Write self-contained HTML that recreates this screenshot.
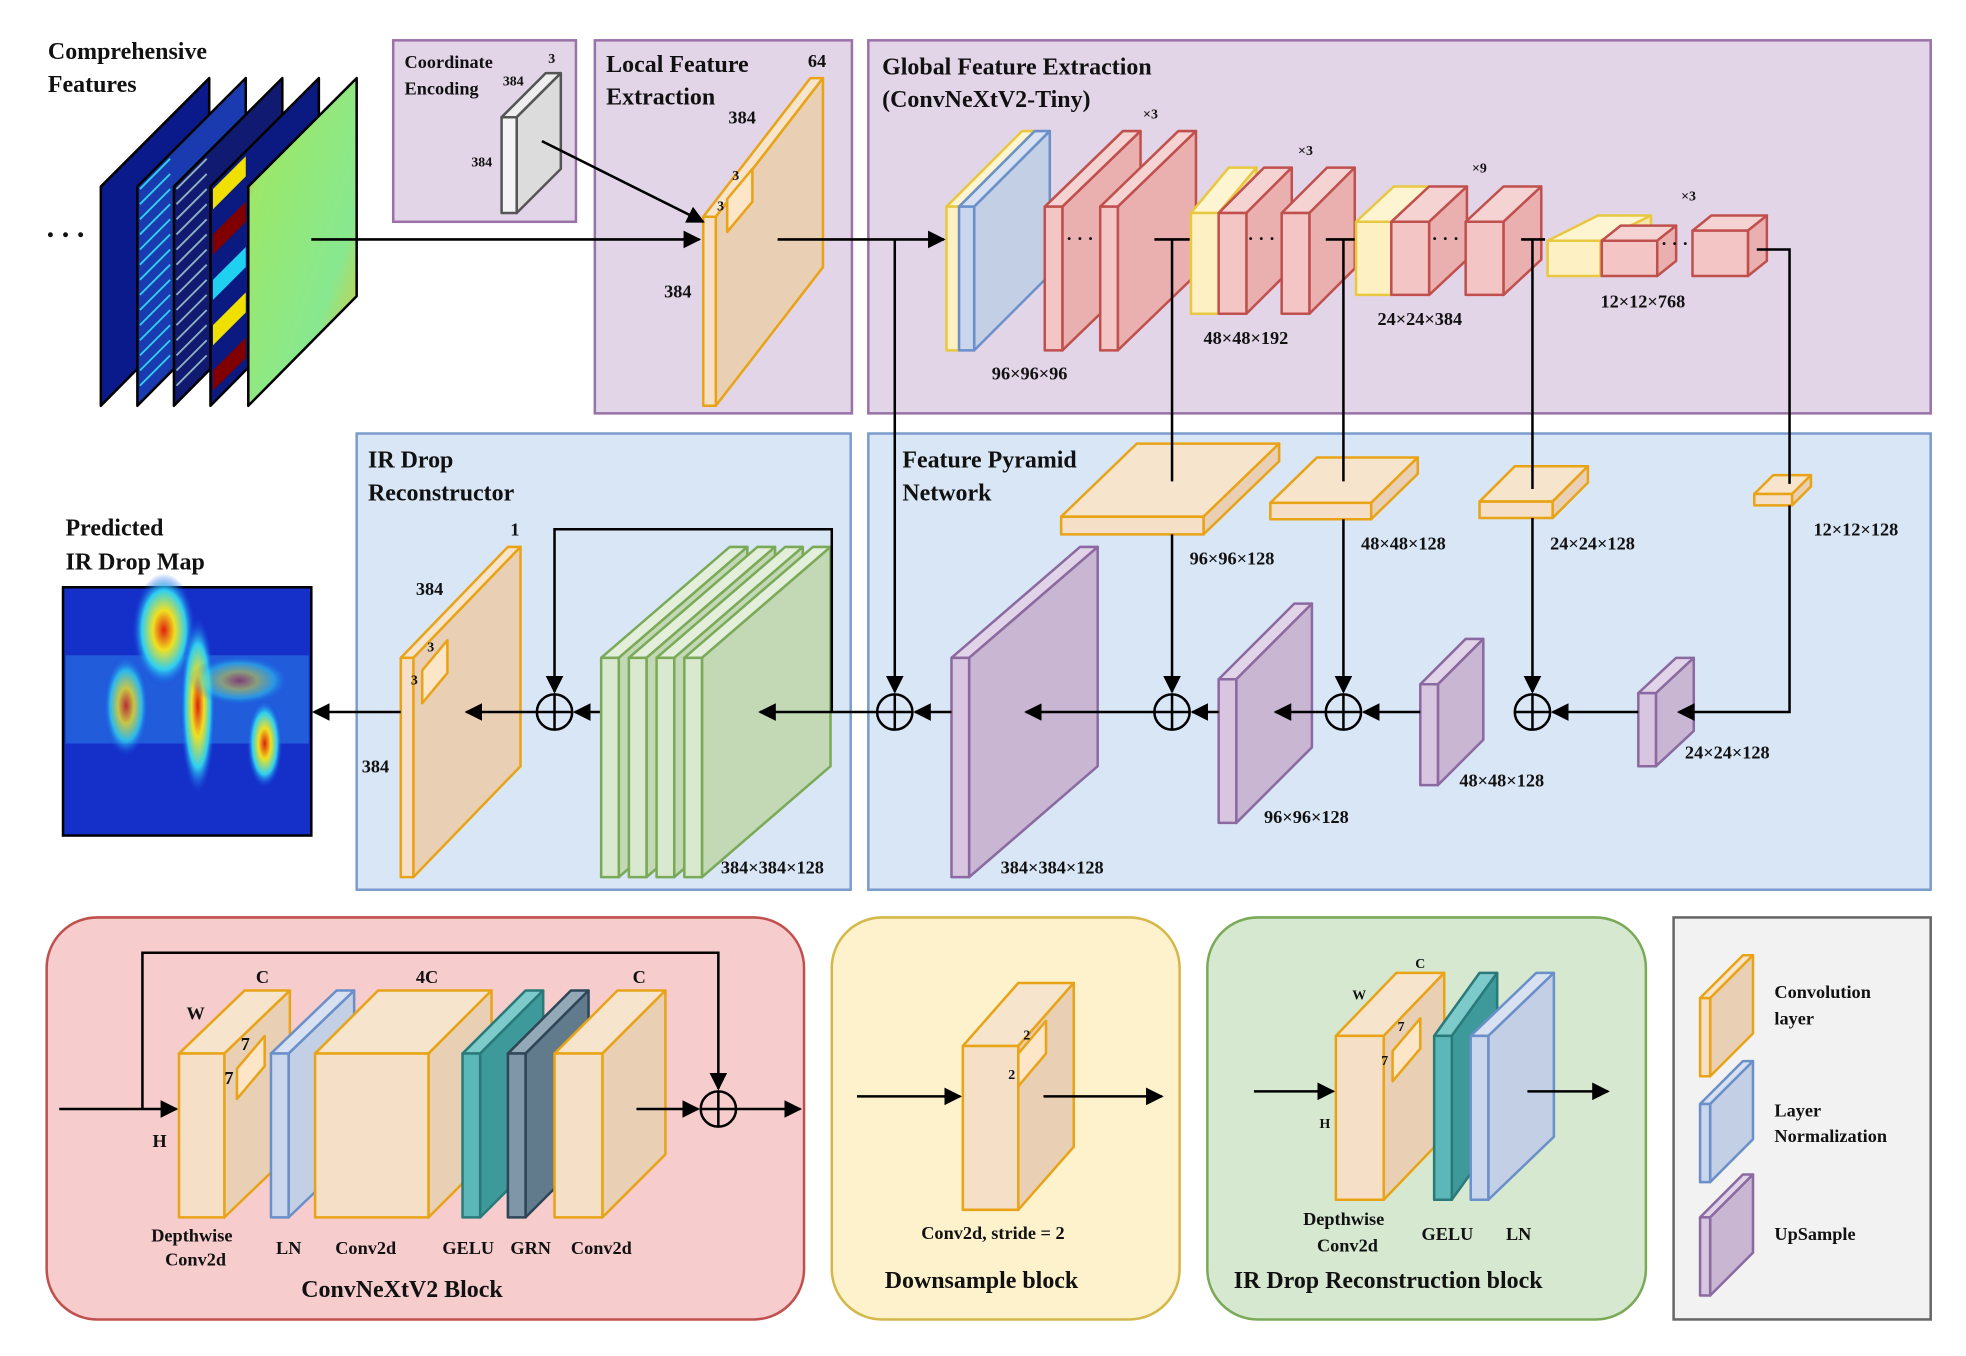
<!DOCTYPE html>
<html><head><meta charset="utf-8">
<style>
html,body{margin:0;padding:0;background:#fff;}
svg{display:block;}
text{font-family:"Liberation Serif",serif;font-weight:bold;fill:#111;}
.t{font-size:19px;}
.l{font-size:14.5px;}
.s{font-size:11px;}
</style></head>
<body>
<svg id="fig" width="1966" height="1356" viewBox="0 0 1560 1076" xmlns="http://www.w3.org/2000/svg">
<defs>
<marker id="ar" viewBox="0 0 10 10" refX="9" refY="5" markerWidth="7" markerHeight="7" orient="auto"><path d="M0,0 L10,5 L0,10 z" fill="#000"/></marker>
<linearGradient id="gfeat" x1="0" y1="0" x2="1" y2="1"><stop offset="0" stop-color="#ff6a00"/><stop offset="0.2" stop-color="#9be86a"/><stop offset="0.7" stop-color="#88e890"/><stop offset="1" stop-color="#f0c020"/></linearGradient>
<radialGradient id="hot" cx="0.5" cy="0.5" r="0.5"><stop offset="0" stop-color="#e02010"/><stop offset="0.35" stop-color="#f0e020"/><stop offset="0.7" stop-color="#30d0f0"/><stop offset="1" stop-color="#1040e0" stop-opacity="0"/></radialGradient>
</defs>

<rect x="312" y="32" width="145" height="144" fill="#e3d5e8" stroke="#9a72a8" stroke-width="2"/>
<rect x="472" y="32" width="204" height="296" fill="#e3d5e8" stroke="#9a72a8" stroke-width="2"/>
<rect x="689" y="32" width="843" height="296" fill="#e3d5e8" stroke="#9a72a8" stroke-width="2"/>
<rect x="283" y="344" width="392" height="362" fill="#d9e6f6" stroke="#7b9ccc" stroke-width="2"/>
<rect x="689" y="344" width="843" height="362" fill="#d9e6f6" stroke="#7b9ccc" stroke-width="2"/>
<rect x="37" y="728" width="601" height="319" rx="40" fill="#f6cccc" stroke="#c0504d" stroke-width="2"/>
<rect x="660" y="728" width="276" height="319" rx="40" fill="#fdf2cc" stroke="#d4b84a" stroke-width="2"/>
<rect x="958" y="728" width="348" height="319" rx="40" fill="#d7e8d1" stroke="#7aaa58" stroke-width="2"/>
<rect x="1328" y="728" width="204" height="319" fill="#f2f2f2" stroke="#666" stroke-width="2"/>

<g id="maps"></g>
<text class="t" x="38" y="47">Comprehensive</text>
<text class="t" x="38" y="73">Features</text>
<text x="37" y="188" style="font-size:24px">. . .</text>

<text class="l" x="321" y="54">Coordinate</text>
<text class="l" x="321" y="75">Encoding</text>
<text class="s" x="435" y="50">3</text>
<text class="s" x="399" y="68">384</text>
<text class="s" x="374" y="132">384</text>
<text class="t" x="481" y="57">Local Feature</text>
<text class="t" x="481" y="83">Extraction</text>
<text class="l" x="641" y="53">64</text>
<text class="l" x="578" y="98">384</text>
<text class="l" x="527" y="236">384</text>
<text class="t" x="700" y="59">Global Feature Extraction</text>
<text class="t" x="700" y="85">(ConvNeXtV2-Tiny)</text>
<text class="t" x="292" y="371">IR Drop</text>
<text class="t" x="292" y="397">Reconstructor</text>
<text class="t" x="716" y="371">Feature Pyramid</text>
<text class="t" x="716" y="397">Network</text>
<text class="t" x="52" y="425">Predicted</text>
<text class="t" x="52" y="452">IR Drop Map</text>

<g>
<rect x="50" y="466" width="197" height="197" fill="#1530c8" stroke="#000" stroke-width="2"/>
<rect x="52" y="520" width="193" height="70" fill="#2a7ae8" opacity="0.6"/>
<ellipse cx="130" cy="500" rx="25" ry="45" fill="url(#hot)"/>
<ellipse cx="157" cy="560" rx="14" ry="70" fill="url(#hot)"/>
<ellipse cx="100" cy="560" rx="18" ry="40" fill="url(#hot)" opacity="0.8"/>
<ellipse cx="210" cy="590" rx="14" ry="35" fill="url(#hot)"/>
<ellipse cx="190" cy="540" rx="40" ry="20" fill="url(#hot)" opacity="0.5"/>
</g>

<g id="boxes"></g>
<g id="lines" stroke="#000" stroke-width="2" fill="none"></g>

<g>
<text class="s" x="907" y="94">×3</text>
<text class="l" x="787" y="301">96×96×96</text>
<text class="s" x="1030" y="123">×3</text>
<text class="l" x="955" y="273">48×48×192</text>
<text class="s" x="1168" y="137">×9</text>
<text class="l" x="1093" y="258">24×24×384</text>
<text class="s" x="1334" y="159">×3</text>
<text class="l" x="1270" y="244">12×12×768</text>
<text class="l" x="944" y="448">96×96×128</text>
<text class="l" x="1080" y="436">48×48×128</text>
<text class="l" x="1230" y="436">24×24×128</text>
<text class="l" x="1439" y="425">12×12×128</text>
<text class="l" x="794" y="693">384×384×128</text>
<text class="l" x="1003" y="653">96×96×128</text>
<text class="l" x="1158" y="624">48×48×128</text>
<text class="l" x="1337" y="602">24×24×128</text>
<text class="l" x="572" y="693">384×384×128</text>
<text class="l" x="330" y="472">384</text>
<text class="l" x="405" y="425">1</text>
<text class="l" x="287" y="613">384</text>
<text class="s" x="581" y="143">3</text>
<text class="s" x="569" y="167">3</text>
<text class="s" x="339" y="517">3</text>
<text class="s" x="326" y="543">3</text>
</g>
<g>
<text class="l" x="203" y="780">C</text>
<text class="l" x="330" y="780">4C</text>
<text class="l" x="502" y="780">C</text>
<text class="l" x="148" y="809">W</text>
<text class="l" x="121" y="910">H</text>
<text class="l" x="191" y="833">7</text>
<text class="l" x="178" y="860">7</text>
<text class="l" x="120" y="985">Depthwise</text>
<text class="l" x="131" y="1004">Conv2d</text>
<text class="l" x="219" y="995">LN</text>
<text class="l" x="266" y="995">Conv2d</text>
<text class="l" x="351" y="995">GELU</text>
<text class="l" x="405" y="995">GRN</text>
<text class="l" x="453" y="995">Conv2d</text>
<text class="t" x="239" y="1029">ConvNeXtV2 Block</text>
<text class="l" x="731" y="983">Conv2d, stride = 2</text>
<text class="s" x="812" y="825">2</text>
<text class="s" x="800" y="856">2</text>
<text class="t" x="702" y="1022">Downsample block</text>
<text class="s" x="1123" y="768">C</text>
<text class="s" x="1073" y="793">W</text>
<text class="s" x="1047" y="895">H</text>
<text class="s" x="1109" y="818">7</text>
<text class="s" x="1096" y="845">7</text>
<text class="l" x="1034" y="972">Depthwise</text>
<text class="l" x="1045" y="993">Conv2d</text>
<text class="l" x="1128" y="984">GELU</text>
<text class="l" x="1195" y="984">LN</text>
<text class="t" x="979" y="1022">IR Drop Reconstruction block</text>
<text class="l" x="1408" y="792">Convolution</text>
<text class="l" x="1408" y="813">layer</text>
<text class="l" x="1408" y="886">Layer</text>
<text class="l" x="1408" y="906">Normalization</text>
<text class="l" x="1408" y="984">UpSample</text>
</g>
<g>
<text class="l" x="846" y="194">· · ·</text>
<text class="l" x="990" y="194">· · ·</text>
<text class="l" x="1136" y="194">· · ·</text>
<text class="l" x="1318" y="198">· · ·</text>
</g>

<script>
const NS='http://www.w3.org/2000/svg';
const P={o:['#f5dfc6','#e9d0b4','#f7e4cc','#e8a317'],b:['#c9d6ec','#c2cfe4','#d7e1f1','#6b8fc9'],r:['#f3c5c5','#eab0b0','#f5d3d3','#c0504d'],
y:['#fdf1c4','#f7e6a8','#fdf4d2','#e8c840'],g:['#d9e9cf','#c3d8b5','#e3efdb','#7aaa58'],p:['#d8c6e0','#c8b6d2','#e2d4e8','#8a6aa0'],
k:['#f4f4f4','#dcdcdc','#eeeeee','#555555'],t:['#5cb8b8','#3e9a9a','#7ccaca','#2a7a7a'],d:['#7e96a8','#617a8c','#93a9b8','#2e4658']};
const boxes=document.getElementById('boxes');
function poly(pts,fill,stroke){const e=document.createElementNS(NS,'polygon');e.setAttribute('points',pts.map(p=>p.join(',')).join(' '));e.setAttribute('fill',fill);e.setAttribute('stroke',stroke);e.setAttribute('stroke-width','2');e.setAttribute('stroke-linejoin','round');return e;}
function box(name,x,y,w,h,dx,dy,c){const g=document.createElementNS(NS,'g');


const C=P[c];
g.appendChild(poly([[x,y],[x+dx,y-dy],[x+w+dx,y-dy],[x+w,y]],C[2],C[3]));
g.appendChild(poly([[x+w,y],[x+w+dx,y-dy],[x+w+dx,y+h-dy],[x+w,y+h]],C[1],C[3]));
g.appendChild(poly([[x,y],[x+w,y],[x+w,y+h],[x,y+h]],C[0],C[3]));
boxes.appendChild(g);}
function kern(name,x,y,s,dx,dy){const g=document.createElementNS(NS,'g');


g.appendChild(poly([[x,y],[x+dx,y-dy],[x+dx,y-dy+s],[x,y+s]],'#fde5c8','#e8a317'));boxes.appendChild(g);}
const maps=document.getElementById('maps');
const mf=['#0a1a8a','#1a3ab0','#101a70','#0a1a80','url(#gfeat)'];
[80,109,138,167,197].forEach((x,i)=>{const p=poly([[x,148],[x+86,62],[x+86,235],[x,322]],mf[i],'#000');


maps.appendChild(p);
if(i===1||i===2){for(let k=0;k<14;k++){const l=document.createElementNS(NS,'line');const yy=150+k*12;l.setAttribute('x1',x+2);l.setAttribute('y1',yy);l.setAttribute('x2',x+26);l.setAttribute('y2',yy-24);l.setAttribute('stroke',i===1?'#30d0f0':'#8fb0c0');l.setAttribute('stroke-width','1.5');maps.appendChild(l);}}
if(i===3){[[0,'#f0e000'],[2,'#800000'],[4,'#20d0f0'],[6,'#f0e000'],[8,'#800000']].forEach(([k,c])=>{const q=poly([[x+2,150+k*18],[x+28,124+k*18],[x+28,140+k*18],[x+2,166+k*18]],c,'none');maps.appendChild(q);});}
});
box('coordinate-encoding-tensor',398,93,12,76,35,35,'k');
box('local-conv-layer',558,172,10,150,85,110,'o');
kern('local-kernel',577,158,26,20,24);
box('stem-conv',751,164,10,114,60,60,'y');
box('stem-layernorm',761,164,12,114,60,60,'b');
box('stage1-block-a',829,164,14,114,62,60,'r');
box('stage1-block-b',873,164,14,114,62,60,'r');
box('downsample-2',945,169,22,80,30,36,'y');
box('stage2-block-a',967,169,22,80,36,36,'r');
box('stage2-block-b',1017,169,22,80,36,36,'r');
box('downsample-3',1076,176,28,58,30,28,'y');
box('stage3-block-a',1104,176,30,58,30,28,'r');
box('stage3-block-b',1163,176,30,58,30,28,'r');
box('downsample-4',1228,191,42,28,40,20,'y');
box('stage4-block-a',1271,191,44,28,15,12,'r');
box('stage4-block-b',1343,183,44,36,15,12,'r');
box('fpn-lateral-96',842,410,113,14,60,58,'o');
box('fpn-lateral-48',1008,399,80,13,37,36,'o');
box('fpn-lateral-24',1174,398,58,13,28,28,'o');
box('fpn-lateral-12',1392,392,30,9,15,15,'o');
box('upsample-384',755,522,14,174,102,88,'p');
box('upsample-96',967,539,14,114,60,60,'p');
box('upsample-48',1127,543,14,80,36,36,'p');
box('upsample-24',1300,550,14,58,30,28,'p');
[477,499,521,543].forEach((x,i)=>box('reconstruction-block-'+(i+1),x,522,14,174,102,88,'g'));
box('output-conv',318,522,10,174,85,88,'o');
kern('output-kernel',335,532,26,20,24);
box('depthwise-conv',142,836,36,130,52,50,'o');
kern('dw-kernel',188,848,24,22,26);
box('block-layernorm',215,836,14,130,52,50,'b');
box('pointwise-conv-4c',250,836,90,130,50,50,'o');
box('gelu',367,836,14,130,50,50,'t');
box('grn',403,836,14,130,50,50,'d');
box('pointwise-conv-c',440,836,38,130,50,50,'o');
box('downsample-conv',764,830,44,130,44,50,'o');
kern('ds-kernel',808,836,26,22,26);
box('rec-depthwise-conv',1060,822,38,130,48,50,'o');
kern('rec-kernel',1105,834,24,22,26);
box('rec-gelu',1138,822,14,130,36,50,'t');
box('rec-layernorm',1167,822,14,130,52,50,'b');
box('legend-conv',1349,792,8,62,34,34,'o');
box('legend-ln',1349,876,8,62,34,34,'b');
box('legend-upsample',1349,966,8,62,34,34,'p');
const L=document.getElementById('lines');
function ln(name,pts,arrow){const e=document.createElementNS(NS,'polyline');
e.setAttribute('points',pts.map(p=>p.join(',')).join(' '));
if(arrow)e.setAttribute('marker-end','url(#ar)');


L.appendChild(e);}
function mk(tag,attrs){const e=document.createElementNS(NS,tag);for(const k in attrs)e.setAttribute(k,attrs[k]);return e;}
function circ(name,x,y){const c=document.createElementNS(NS,'g');


c.appendChild(mk('circle',{cx:x,cy:y,r:14,fill:'none',stroke:'#000','stroke-width':2}));
c.appendChild(mk('line',{x1:x-14,y1:y,x2:x+14,y2:y,stroke:'#000','stroke-width':2}));
c.appendChild(mk('line',{x1:x,y1:y-14,x2:x,y2:y+14,stroke:'#000','stroke-width':2}));
L.appendChild(c);}
ln('input-arrow',[[247,190],[555,190]],1);
ln('coord-arrow',[[430,112],[558,176]],1);
ln('local-to-global-arrow',[[617,190],[749,190]],1);
ln('local-skip-down',[[710,190],[710,549]],1);
ln('stage1-tap',[[916,190],[944,190]]);ln('stage1-down',[[930,190],[930,382]]);ln('lat96-down',[[930,424],[930,549]],1);
ln('stage2-tap',[[1052,190],[1075,190]]);ln('stage2-down',[[1066,190],[1066,382]]);ln('lat48-down',[[1066,412],[1066,549]],1);
ln('stage3-tap',[[1207,190],[1226,190]]);ln('stage3-down',[[1216,190],[1216,388]]);ln('lat24-down',[[1216,411],[1216,549]],1);
ln('stage4-out',[[1394,198],[1420,198],[1420,384]]);ln('lat12-out',[[1420,401],[1420,565],[1332,565]],1);
ln('up24-arrow',[[1300,565],[1232,565]],1);
ln('up48-arrow',[[1127,565],[1082,565]],1);
ln('add48-arrow',[[1052,565],[1012,565]],1);
ln('up96-arrow',[[967,565],[946,565]],1);
ln('add96-arrow',[[916,565],[814,565]],1);
ln('up384-arrow',[[755,565],[726,565]],1);
ln('fpn-out-arrow',[[696,565],[603,565]],1);
ln('rec-skip',[[660,565],[660,420],[440,420],[440,549]],1);
ln('rec-to-add',[[476,565],[456,565]],1);
ln('add-to-conv',[[426,565],[370,565]],1);
ln('output-arrow',[[318,565],[249,565]],1);
circ('add-1',710,565);circ('add-2',930,565);circ('add-3',1066,565);circ('add-4',1216,565);circ('add-rec',440,565);
ln('block-in',[[47,880],[140,880]],1);
ln('block-skip',[[113,880],[113,756],[570,756],[570,864]],1);
ln('block-to-add',[[505,880],[554,880]],1);
ln('block-out',[[584,880],[635,880]],1);
circ('block-add',570,880);
ln('ds-in',[[680,870],[762,870]],1);ln('ds-out',[[828,870],[922,870]],1);
ln('rec-in',[[995,866],[1058,866]],1);ln('rec-out',[[1212,866],[1276,866]],1);
</script>
</svg>
</body></html>
